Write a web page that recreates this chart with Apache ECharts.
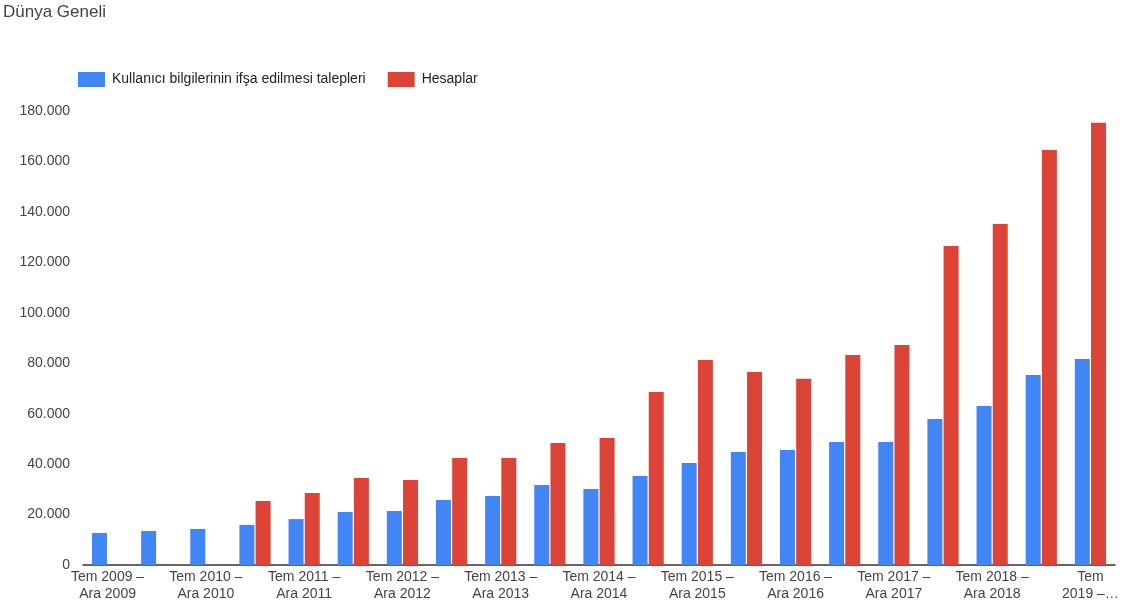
<!DOCTYPE html>
<html>
<head>
<meta charset="utf-8">
<script src="https://cdn.jsdelivr.net/npm/echarts@6/dist/echarts.min.js"></script>
<style>html,body{margin:0;padding:0;background:#fff}#c{width:1128px;height:614px}</style>
</head>
<body>
<div id="c"></div>
<script>
const categories = [
  "Tem 2009 – Ara 2009", "Oca 2010 – Haz 2010", "Tem 2010 – Ara 2010",
  "Oca 2011 – Haz 2011", "Tem 2011 – Ara 2011", "Oca 2012 – Haz 2012",
  "Tem 2012 – Ara 2012", "Oca 2013 – Haz 2013", "Tem 2013 – Ara 2013",
  "Oca 2014 – Haz 2014", "Tem 2014 – Ara 2014", "Oca 2015 – Haz 2015",
  "Tem 2015 – Ara 2015", "Oca 2016 – Haz 2016", "Tem 2016 – Ara 2016",
  "Oca 2017 – Haz 2017", "Tem 2017 – Ara 2017", "Oca 2018 – Haz 2018",
  "Tem 2018 – Ara 2018", "Oca 2019 – Haz 2019", "Tem 2019 – Ara 2019"
];
const requests = [12700, 13500, 14300, 15900, 18200, 21000, 21400, 25800, 27400, 31700, 30100,
  35300, 40400, 44800, 45600, 48800, 48800, 57900, 63000, 75300, 81700];
const accounts = [null, null, null, 25400, 28500, 34500, 33700, 42400, 42400, 48400, 50400,
  68600, 81300, 76500, 73800, 83300, 87200, 126500, 135200, 164500, 175300];
const seriesNames = ["Kullanıcı bilgilerinin ifşa edilmesi talepleri", "Hesaplar"];
const yTicks = [0, 20000, 40000, 60000, 80000, 100000, 120000, 140000, 160000, 180000];

const fmt = v => String(v).replace(/\B(?=(\d{3})+(?!\d))/g, '.');
const chart = echarts.init(document.getElementById('c'));
chart.setOption({
  animation: false,
  title: {
    text: 'Dünya Geneli', left: -2, top: -1,
    textStyle: { fontFamily: 'Liberation Sans, Arial', fontSize: 17, fontWeight: 'normal', color: '#444' }
  },
  legend: {
    left: 73, top: 67, icon: 'rect', itemWidth: 27, itemHeight: 15, itemGap: 22,
    textStyle: { fontFamily: 'Liberation Sans, Arial', fontSize: 14, color: '#222', padding: [0, 0, 0, 2] },
    data: seriesNames
  },
  grid: { left: 83, right: 13, top: 111, bottom: 49, containLabel: false },
  xAxis: {
    type: 'category', data: categories,
    axisLine: { lineStyle: { color: '#333', width: 1.5 } },
    axisTick: { show: false },
    axisLabel: {
      interval: 1, margin: 4, lineHeight: 17,
      fontFamily: 'Liberation Sans, Arial', fontSize: 14, color: '#444',
      formatter: (v, i) => i === categories.length - 1 ? 'Tem\n2019 –…' : v.replace(' – ', ' –\n')
    }
  },
  yAxis: {
    type: 'value', min: yTicks[0], max: yTicks[yTicks.length - 1], interval: 20000,
    splitLine: { show: false }, axisLine: { show: false }, axisTick: { show: false },
    axisLabel: { margin: 13, fontFamily: 'Liberation Sans, Arial', fontSize: 14, color: '#444', formatter: v => fmt(v) }
  },
  series: [
    { name: seriesNames[0], type: 'bar', data: requests, barWidth: 15, barGap: '8%', itemStyle: { color: '#4285F4' } },
    { name: seriesNames[1], type: 'bar', data: accounts, barWidth: 15, itemStyle: { color: '#DB4437' } }
  ]
});
</script>
</body>
</html>
